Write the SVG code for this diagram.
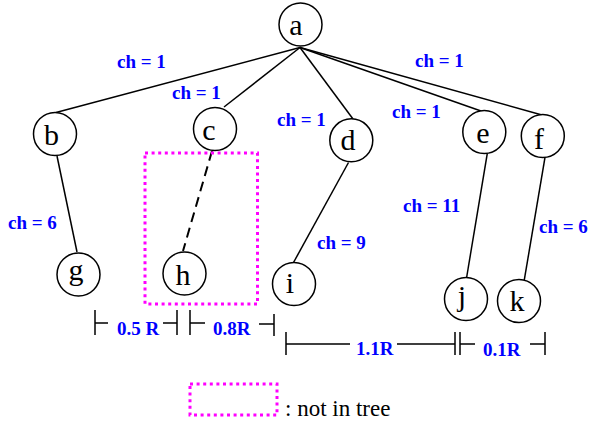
<svg xmlns="http://www.w3.org/2000/svg" width="592" height="424" viewBox="0 0 592 424">
<style>
.node circle{fill:#fff;stroke:#000;stroke-width:1.5}
.node text{font-size:30px;fill:#000;text-anchor:middle}
.edge{stroke:#000;stroke-width:1.5;fill:none}
.dash{stroke:#000;stroke-width:2;fill:none;stroke-dasharray:10 6}
.box{fill:none;stroke:#ff00ff;stroke-width:3;stroke-dasharray:3 3.6}
.lbl{font-size:19px;font-weight:bold;fill:#0000ff}
.leg{font-size:23px;fill:#000}
.bar{stroke:#000;stroke-width:1.5;fill:none}
</style>
<rect width="592" height="424" fill="#fff"/>
<g id="connectors">
<line class="edge" x1="300" y1="47.5" x2="56" y2="112.5"/>
<line class="edge" x1="300" y1="47.5" x2="224" y2="107"/>
<line class="edge" x1="300" y1="47.5" x2="353" y2="119"/>
<line class="edge" x1="300" y1="47.5" x2="481" y2="111"/>
<line class="edge" x1="300" y1="47.5" x2="542" y2="115"/>
<line class="edge" x1="57" y1="156" x2="77" y2="252"/>
<line class="dash" x1="212" y1="151" x2="183" y2="251"/>
<line class="edge" x1="348.5" y1="162.5" x2="293.5" y2="262.5"/>
<line class="edge" x1="487.3" y1="153.3" x2="466.7" y2="277"/>
<line class="edge" x1="545" y1="157.3" x2="524" y2="281.7"/>
</g>
<rect id="excluded" class="box" x="145" y="153" width="112.5" height="151"/>
<g font-family="Liberation Serif, Times New Roman, serif">
<g id="a" class="node"><circle cx="300.5" cy="24.5" r="21.5"/><text x="296" y="35">a</text></g>
<g id="b" class="node"><circle cx="55" cy="134" r="21.5"/><text x="51.5" y="145">b</text></g>
<g id="c" class="node"><circle cx="215" cy="129" r="21.5"/><text x="209" y="140">c</text></g>
<g id="d" class="node"><circle cx="351.3" cy="140.3" r="21.5"/><text x="348" y="150">d</text></g>
<g id="e" class="node"><circle cx="484.3" cy="132" r="21.5"/><text x="483" y="143">e</text></g>
<g id="f" class="node"><circle cx="542.8" cy="136" r="21.5"/><text x="539" y="149">f</text></g>
<g id="g" class="node"><circle cx="78.5" cy="274.5" r="21.5"/><text x="76" y="280">g</text></g>
<g id="h" class="node"><circle cx="184.5" cy="273.5" r="21.5"/><text x="183" y="285">h</text></g>
<g id="i" class="node"><circle cx="294" cy="284" r="21.5"/><text x="290" y="293">i</text></g>
<g id="j" class="node"><circle cx="466" cy="299" r="21.5"/><text x="462" y="306">j</text></g>
<g id="k" class="node"><circle cx="519" cy="301" r="21.5"/><text x="517" y="311">k</text></g>
<g id="labels">
<text class="lbl" x="117" y="68">ch = 1</text>
<text class="lbl" x="172" y="99">ch = 1</text>
<text class="lbl" x="277" y="126">ch = 1</text>
<text class="lbl" x="415" y="67">ch = 1</text>
<text class="lbl" x="392" y="118">ch = 1</text>
<text class="lbl" x="8" y="229">ch = 6</text>
<text class="lbl" x="317" y="249">ch = 9</text>
<text class="lbl" x="403" y="212">ch = 11</text>
<text class="lbl" x="539" y="233">ch = 6</text>
</g>
<g id="measures">
<path class="bar" d="M95 310V335M95 323H108M163 323H177M177 310V335"/>
<path class="bar" d="M190 310V335M190 323H205M259 324H274M274 314V336"/>
<path class="bar" d="M286 332V355M286 344H350M397 344H455M455 332V355"/>
<path class="bar" d="M460 332V355M460 344H475M530 344H545M545 332V355"/>
<text class="lbl" x="117" y="335">0.5 R</text>
<text class="lbl" x="213" y="335">0.8R</text>
<text class="lbl" x="356" y="355">1.1R</text>
<text class="lbl" x="483" y="356">0.1R</text>
</g>
<g id="legend">
<rect class="box" x="190" y="384" width="87" height="31"/>
<text class="leg" x="285" y="416">: not in tree</text>
</g>
</g>
</svg>
